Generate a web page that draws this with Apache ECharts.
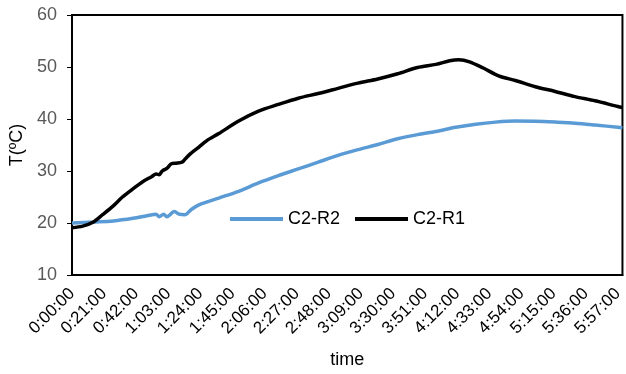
<!DOCTYPE html>
<html>
<head>
<meta charset="utf-8">
<script src="https://cdn.jsdelivr.net/npm/echarts@6/dist/echarts.min.js"></script>
<style>
    html, body { margin: 0; padding: 0; background: #fff; }
    #chart { width: 626px; height: 374px; }
</style>
</head>
<body>
<div id="chart"></div>
<script>
// 时间单位: 分钟
var r1Time = [0, 7, 14, 20, 27, 33, 40, 46, 52, 55, 57, 59, 62, 65, 68, 72, 74, 77, 83, 88, 96,
    109, 122, 135, 148, 161, 174, 187, 200, 213, 226, 238, 247, 253, 260, 269, 279, 290, 303,
    316, 329, 342, 357, 360];
var r1Temp = [19.1, 19.4, 20.2, 21.6, 23.3, 25.0, 26.6, 27.9, 28.9, 29.4, 29.3, 30.0, 30.5, 31.4,
    31.5, 31.7, 32.3, 33.2, 34.6, 35.8, 37.2, 39.6, 41.5, 42.8, 44.0, 44.9, 45.9, 46.9, 47.7, 48.7,
    49.9, 50.5, 51.2, 51.4, 51.0, 49.8, 48.3, 47.4, 46.2, 45.3, 44.3, 43.5, 42.4, 42.2];

var r2Time = [0, 14, 27, 40, 49, 55, 57, 60, 62, 67, 70, 74, 78, 83, 96, 109, 122, 135, 148, 161,
    174, 187, 200, 213, 226, 238, 251, 264, 277, 290, 303, 316, 329, 342, 357, 360];
var r2Temp = [20.0, 20.2, 20.4, 20.9, 21.4, 21.7, 21.2, 21.7, 21.2, 22.2, 21.7, 21.6, 22.6, 23.5,
    24.8, 26.1, 27.7, 29.1, 30.4, 31.7, 33.0, 34.1, 35.1, 36.2, 37.0, 37.6, 38.4, 39.0, 39.4, 39.6,
    39.55, 39.4, 39.2, 38.85, 38.4, 38.3];

var seriesNames = ['C2-R2', 'C2-R1'];
var yTicks = [10, 20, 30, 40, 50, 60];

function pairs(t, v) {
    return t.map(function (m, i) { return [m, v[i]]; });
}

function fmtTime(m) {
    var h = Math.floor(m / 60);
    var mm = m % 60;
    return h + ':' + (mm < 10 ? '0' : '') + mm + ':00';
}

var font = '"Liberation Sans", Arial, sans-serif';
var mychart = echarts.init(document.getElementById('chart'));

var option = {
    animation: false,
    textStyle: { fontFamily: font },
    grid: {
        left: 72,
        top: 15,
        right: -2,
        bottom: 99,
        show: true,
        borderColor: '#000',
        borderWidth: 2
    },
    legend: {
        left: 225,
        top: 205,
        icon: 'rect',
        itemWidth: 53,
        itemHeight: 4,
        itemGap: 15,
        textStyle: { fontFamily: font, fontSize: 18, color: '#000' },
        data: seriesNames
    },
    xAxis: {
        type: 'value',
        min: 0,
        max: 360,
        interval: 21,
        name: 'time',
        nameLocation: 'middle',
        nameGap: 76,
        nameTextStyle: { fontFamily: font, fontSize: 18, color: '#000' },
        axisLine: { show: true, lineStyle: { color: '#000', width: 2 } },
        axisTick: { show: false },
        splitLine: { show: false },
        axisLabel: {
            rotate: 45,
            margin: 16,
            showMaxLabel: false,
            fontFamily: font,
            fontSize: 17,
            color: '#000',
            formatter: function (v) { return fmtTime(v); }
        }
    },
    yAxis: {
        type: 'value',
        min: yTicks[0],
        max: yTicks[yTicks.length - 1],
        interval: 10,
        name: 'T(ºC)',
        nameLocation: 'middle',
        nameGap: 45,
        nameRotate: 90,
        nameTextStyle: { fontFamily: font, fontSize: 18, color: '#000' },
        axisLine: { show: true, lineStyle: { color: '#000', width: 2 } },
        axisTick: { show: true, inside: false, length: 5, lineStyle: { color: '#000', width: 1 } },
        splitLine: { show: false },
        axisLabel: {
            margin: 15,
            fontFamily: font,
            fontSize: 18,
            color: '#595959'
        }
    },
    series: [
        {
            name: seriesNames[0],
            type: 'line',
            showSymbol: false,
            smooth: 0.3,
            color: '#5B9BD5',
            lineStyle: { width: 3.5, color: '#5B9BD5' },
            data: pairs(r2Time, r2Temp)
        },
        {
            name: seriesNames[1],
            type: 'line',
            showSymbol: false,
            smooth: 0.3,
            color: '#000',
            lineStyle: { width: 3.5, color: '#000' },
            data: pairs(r1Time, r1Temp)
        }
    ]
};
mychart.setOption(option);
</script>
</body>
</html>
